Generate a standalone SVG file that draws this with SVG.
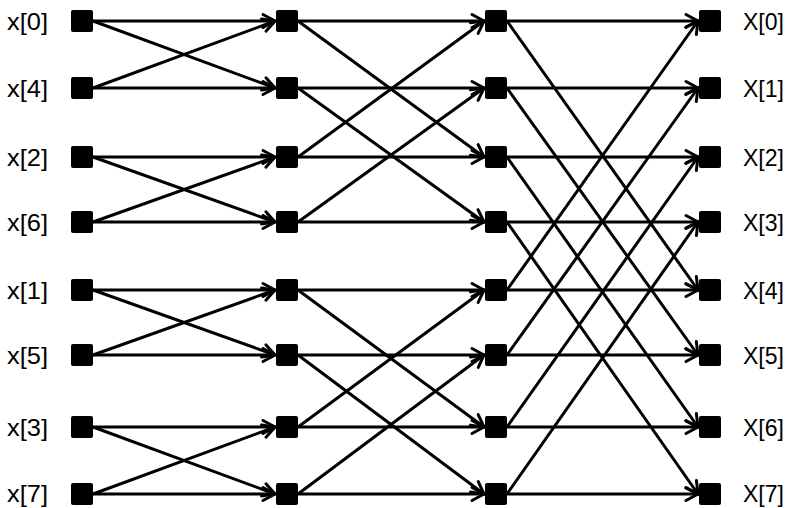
<svg xmlns="http://www.w3.org/2000/svg" width="789" height="508" viewBox="0 0 789 508">
<style>
.n{fill:#000}
.e{stroke:#000;stroke-width:3;fill:none;marker-end:url(#a)}
.t{font-family:"Liberation Sans",Arial,sans-serif;font-size:24px;fill:#000}
</style>
<defs>
<marker id="a" markerUnits="userSpaceOnUse" markerWidth="20" markerHeight="20" refX="0" refY="0" viewBox="-14 -10 20 20" orient="auto" overflow="visible">
<path d="M-12,-6.5 L0,0 L-12,6.5" fill="none" stroke="#000" stroke-width="3" stroke-linecap="round" stroke-linejoin="miter"/>
</marker>
</defs>
<rect width="789" height="508" fill="#fff"/>
<g id="connectors">
<!-- stage 1 -->
<line class="e" x1="93" y1="21" x2="275" y2="21"/>
<line class="e" x1="93" y1="21" x2="275" y2="88"/>
<line class="e" x1="93" y1="88" x2="275" y2="21"/>
<line class="e" x1="93" y1="88" x2="275" y2="88"/>
<line class="e" x1="93" y1="157" x2="275" y2="157"/>
<line class="e" x1="93" y1="157" x2="275" y2="222"/>
<line class="e" x1="93" y1="222" x2="275" y2="157"/>
<line class="e" x1="93" y1="222" x2="275" y2="222"/>
<line class="e" x1="93" y1="290" x2="275" y2="290"/>
<line class="e" x1="93" y1="290" x2="275" y2="355"/>
<line class="e" x1="93" y1="355" x2="275" y2="290"/>
<line class="e" x1="93" y1="355" x2="275" y2="355"/>
<line class="e" x1="93" y1="427" x2="275" y2="427"/>
<line class="e" x1="93" y1="427" x2="275" y2="494"/>
<line class="e" x1="93" y1="494" x2="275" y2="427"/>
<line class="e" x1="93" y1="494" x2="275" y2="494"/>
<!-- stage 2 -->
<line class="e" x1="298" y1="21" x2="484" y2="21"/>
<line class="e" x1="298" y1="21" x2="484" y2="157"/>
<line class="e" x1="298" y1="157" x2="484" y2="21"/>
<line class="e" x1="298" y1="157" x2="484" y2="157"/>
<line class="e" x1="298" y1="88" x2="484" y2="88"/>
<line class="e" x1="298" y1="88" x2="484" y2="222"/>
<line class="e" x1="298" y1="222" x2="484" y2="88"/>
<line class="e" x1="298" y1="222" x2="484" y2="222"/>
<line class="e" x1="298" y1="290" x2="484" y2="290"/>
<line class="e" x1="298" y1="290" x2="484" y2="427"/>
<line class="e" x1="298" y1="427" x2="484" y2="290"/>
<line class="e" x1="298" y1="427" x2="484" y2="427"/>
<line class="e" x1="298" y1="355" x2="484" y2="355"/>
<line class="e" x1="298" y1="355" x2="484" y2="494"/>
<line class="e" x1="298" y1="494" x2="484" y2="355"/>
<line class="e" x1="298" y1="494" x2="484" y2="494"/>
<!-- stage 3 -->
<line class="e" x1="507" y1="21" x2="698" y2="21"/>
<line class="e" x1="507" y1="21" x2="698" y2="290"/>
<line class="e" x1="507" y1="290" x2="698" y2="21"/>
<line class="e" x1="507" y1="290" x2="698" y2="290"/>
<line class="e" x1="507" y1="88" x2="698" y2="88"/>
<line class="e" x1="507" y1="88" x2="698" y2="355"/>
<line class="e" x1="507" y1="355" x2="698" y2="88"/>
<line class="e" x1="507" y1="355" x2="698" y2="355"/>
<line class="e" x1="507" y1="157" x2="698" y2="157"/>
<line class="e" x1="507" y1="157" x2="698" y2="427"/>
<line class="e" x1="507" y1="427" x2="698" y2="157"/>
<line class="e" x1="507" y1="427" x2="698" y2="427"/>
<line class="e" x1="507" y1="222" x2="698" y2="222"/>
<line class="e" x1="507" y1="222" x2="698" y2="494"/>
<line class="e" x1="507" y1="494" x2="698" y2="222"/>
<line class="e" x1="507" y1="494" x2="698" y2="494"/>
</g>
<g id="in0"><rect class="n" x="71" y="10" width="22" height="22" rx="2"/><text class="t" x="7" y="30" textLength="41" lengthAdjust="spacingAndGlyphs">x[0]</text></g>
<g id="in4"><rect class="n" x="71" y="77" width="22" height="22" rx="2"/><text class="t" x="7" y="97" textLength="41" lengthAdjust="spacingAndGlyphs">x[4]</text></g>
<g id="in2"><rect class="n" x="71" y="146" width="22" height="22" rx="2"/><text class="t" x="7" y="166" textLength="41" lengthAdjust="spacingAndGlyphs">x[2]</text></g>
<g id="in6"><rect class="n" x="71" y="211" width="22" height="22" rx="2"/><text class="t" x="7" y="231" textLength="41" lengthAdjust="spacingAndGlyphs">x[6]</text></g>
<g id="in1"><rect class="n" x="71" y="279" width="22" height="22" rx="2"/><text class="t" x="7" y="299" textLength="41" lengthAdjust="spacingAndGlyphs">x[1]</text></g>
<g id="in5"><rect class="n" x="71" y="344" width="22" height="22" rx="2"/><text class="t" x="7" y="364" textLength="41" lengthAdjust="spacingAndGlyphs">x[5]</text></g>
<g id="in3"><rect class="n" x="71" y="416" width="22" height="22" rx="2"/><text class="t" x="7" y="436" textLength="41" lengthAdjust="spacingAndGlyphs">x[3]</text></g>
<g id="in7"><rect class="n" x="71" y="483" width="22" height="22" rx="2"/><text class="t" x="7" y="502" textLength="41" lengthAdjust="spacingAndGlyphs">x[7]</text></g>
<g id="s1n0"><rect class="n" x="276" y="10" width="22" height="22" rx="2"/></g>
<g id="s1n1"><rect class="n" x="276" y="77" width="22" height="22" rx="2"/></g>
<g id="s1n2"><rect class="n" x="276" y="146" width="22" height="22" rx="2"/></g>
<g id="s1n3"><rect class="n" x="276" y="211" width="22" height="22" rx="2"/></g>
<g id="s1n4"><rect class="n" x="276" y="279" width="22" height="22" rx="2"/></g>
<g id="s1n5"><rect class="n" x="276" y="344" width="22" height="22" rx="2"/></g>
<g id="s1n6"><rect class="n" x="276" y="416" width="22" height="22" rx="2"/></g>
<g id="s1n7"><rect class="n" x="276" y="483" width="22" height="22" rx="2"/></g>
<g id="s2n0"><rect class="n" x="485" y="10" width="22" height="22" rx="2"/></g>
<g id="s2n1"><rect class="n" x="485" y="77" width="22" height="22" rx="2"/></g>
<g id="s2n2"><rect class="n" x="485" y="146" width="22" height="22" rx="2"/></g>
<g id="s2n3"><rect class="n" x="485" y="211" width="22" height="22" rx="2"/></g>
<g id="s2n4"><rect class="n" x="485" y="279" width="22" height="22" rx="2"/></g>
<g id="s2n5"><rect class="n" x="485" y="344" width="22" height="22" rx="2"/></g>
<g id="s2n6"><rect class="n" x="485" y="416" width="22" height="22" rx="2"/></g>
<g id="s2n7"><rect class="n" x="485" y="483" width="22" height="22" rx="2"/></g>
<g id="out0"><rect class="n" x="699" y="10" width="22" height="22" rx="2"/><text class="t" x="743" y="30" textLength="41" lengthAdjust="spacingAndGlyphs">X[0]</text></g>
<g id="out1"><rect class="n" x="699" y="77" width="22" height="22" rx="2"/><text class="t" x="743" y="97" textLength="41" lengthAdjust="spacingAndGlyphs">X[1]</text></g>
<g id="out2"><rect class="n" x="699" y="146" width="22" height="22" rx="2"/><text class="t" x="743" y="166" textLength="41" lengthAdjust="spacingAndGlyphs">X[2]</text></g>
<g id="out3"><rect class="n" x="699" y="211" width="22" height="22" rx="2"/><text class="t" x="743" y="231" textLength="41" lengthAdjust="spacingAndGlyphs">X[3]</text></g>
<g id="out4"><rect class="n" x="699" y="279" width="22" height="22" rx="2"/><text class="t" x="743" y="299" textLength="41" lengthAdjust="spacingAndGlyphs">X[4]</text></g>
<g id="out5"><rect class="n" x="699" y="344" width="22" height="22" rx="2"/><text class="t" x="743" y="364" textLength="41" lengthAdjust="spacingAndGlyphs">X[5]</text></g>
<g id="out6"><rect class="n" x="699" y="416" width="22" height="22" rx="2"/><text class="t" x="743" y="436" textLength="41" lengthAdjust="spacingAndGlyphs">X[6]</text></g>
<g id="out7"><rect class="n" x="699" y="483" width="22" height="22" rx="2"/><text class="t" x="743" y="502" textLength="41" lengthAdjust="spacingAndGlyphs">X[7]</text></g>
</svg>
